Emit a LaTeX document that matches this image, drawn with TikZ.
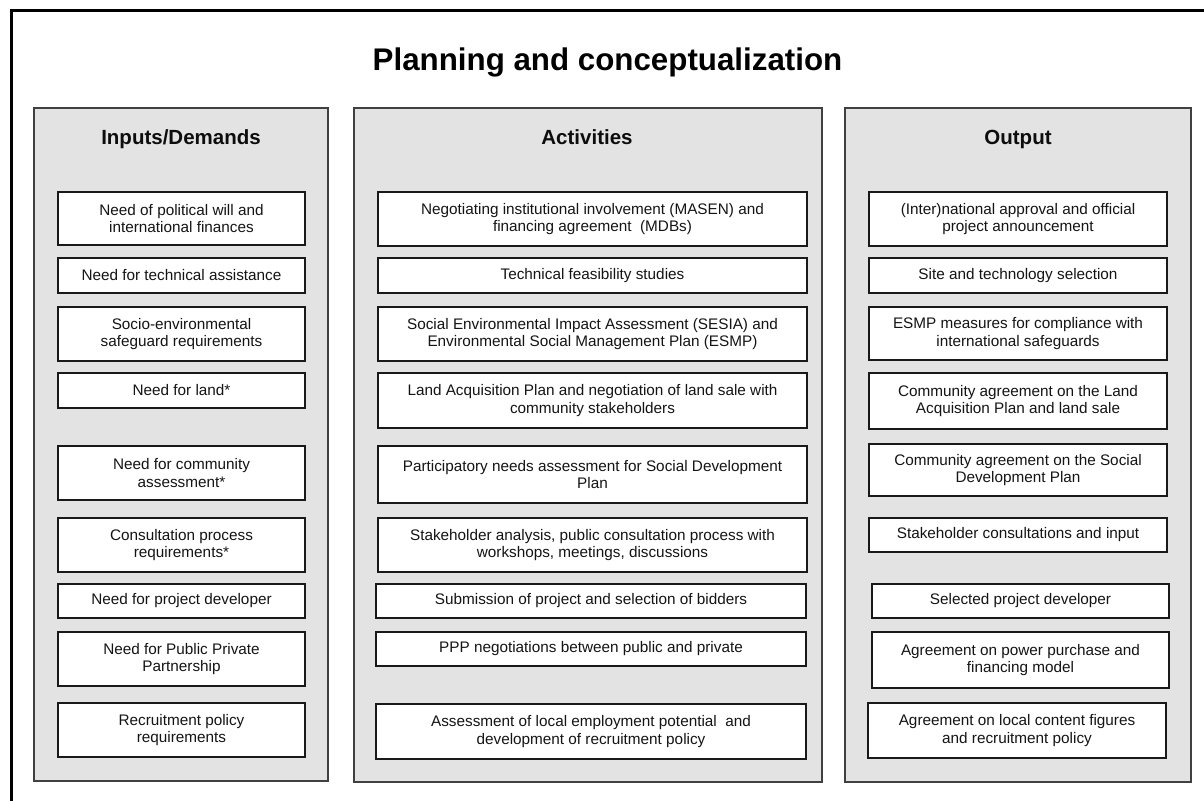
\documentclass[tikz,border=0pt]{standalone}
\usepackage{fontspec}
\setmainfont{Liberation Sans}
\begin{document}
\begin{tikzpicture}[x=1pt,y=-1pt,
  panel/.style={draw=black!75, line width=1.4pt, fill=black!11},
  hdr/.style={font=\bfseries\fontsize{20.5}{24}\selectfont, text=black!95, text height=14.7pt, text depth=0pt, inner sep=0pt},
  ttl/.style={font=\bfseries\fontsize{31.3}{36}\selectfont, text=black, text height=22.4pt, text depth=0pt, inner sep=0pt},
  ibox/.style={draw=black!90, line width=1.6pt, fill=white, inner sep=0pt, align=center,
     font=\fontsize{15.3}{17.5}\selectfont, text=black!92},
  frame/.style={line width=3pt, draw=black}]
\useasboundingbox (0,0) rectangle (1204,800);
\clip (0,0) rectangle (1204,800);
\draw[frame] (11,900) -- (11,11) -- (1300,11);
\node[ttl] (title) at (607.5,59) {Planning and conceptualization};
% panels
\draw[panel] (34,108) rectangle (328,781);
\draw[panel] (354,108) rectangle (822,782);
\draw[panel] (845,108) rectangle (1191,782);
\node[hdr] (h1) at (181,137.5) {Inputs/Demands};
\node[hdr] (h2) at (587,137.5) {Activities};
\node[hdr] (h3) at (1018,137.5) {Output};
% column 1
\node[ibox, minimum width=247pt, minimum height=53pt] (a1) at (181.5,218.5) {Need of political will and\\international finances};
\node[ibox, minimum width=247pt, minimum height=35pt] (a2) at (181.5,275.5) {Need for technical assistance};
\node[ibox, minimum width=247pt, minimum height=54pt] (a3) at (181.5,334) {Socio-environmental\\safeguard requirements};
\node[ibox, minimum width=247pt, minimum height=35pt] (a4) at (181.5,390.5) {Need for land*};
\node[ibox, minimum width=247pt, minimum height=54pt] (a5) at (181.5,473) {Need for community\\assessment*};
\node[ibox, minimum width=247pt, minimum height=54pt] (a6) at (181.5,545) {Consultation process\\requirements*};
\node[ibox, minimum width=247pt, minimum height=34pt] (a7) at (181.5,601) {Need for project developer};
\node[ibox, minimum width=247pt, minimum height=54pt] (a8) at (181.5,659) {Need for Public Private\\Partnership};
\node[ibox, minimum width=247pt, minimum height=54pt] (a9) at (181.5,730) {Recruitment policy\\requirements};
% column 2
\node[ibox, minimum width=429pt, minimum height=54pt] (b1) at (592.5,219) {Negotiating institutional involvement (MASEN) and\\financing agreement\ \ (MDBs)};
\node[ibox, minimum width=429pt, minimum height=35pt] (b2) at (592.5,275.5) {Technical feasibility studies};
\node[ibox, minimum width=429pt, minimum height=54pt] (b3) at (592.5,334) {Social Environmental Impact Assessment (SESIA) and\\Environmental Social Management Plan (ESMP)};
\node[ibox, minimum width=429pt, minimum height=55pt] (b4) at (592.5,400.5) {Land Acquisition Plan and negotiation of land sale with\\community stakeholders};
\node[ibox, minimum width=429pt, minimum height=57pt] (b5) at (592.5,474.5) {Participatory needs assessment for Social Development\\Plan};
\node[ibox, minimum width=429pt, minimum height=54pt] (b6) at (592.5,545) {Stakeholder analysis, public consultation process with\\workshops, meetings, discussions};
\node[ibox, minimum width=430pt, minimum height=34pt] (b7) at (591,601) {Submission of project and selection of bidders};
\node[ibox, minimum width=430pt, minimum height=34pt] (b8) at (591,649) {PPP negotiations between public and private};
\node[ibox, minimum width=430pt, minimum height=55pt] (b9) at (591,731.5) {Assessment of local employment potential\ \ and\\development of recruitment policy};
% column 3
\node[ibox, minimum width=298pt, minimum height=54pt] (c1) at (1018,219) {(Inter)national approval and official\\project announcement};
\node[ibox, minimum width=298pt, minimum height=35pt] (c2) at (1018,275.5) {Site and technology selection};
\node[ibox, minimum width=298pt, minimum height=53pt] (c3) at (1018,333.5) {ESMP measures for compliance with\\international safeguards};
\node[ibox, minimum width=298pt, minimum height=56pt] (c4) at (1018,401) {Community agreement on the Land\\Acquisition Plan and land sale};
\node[ibox, minimum width=298pt, minimum height=52pt] (c5) at (1018,470) {Community agreement on the Social\\Development Plan};
\node[ibox, minimum width=298pt, minimum height=34pt] (c6) at (1018,535) {Stakeholder consultations and input};
\node[ibox, minimum width=297pt, minimum height=34pt] (c7) at (1020.5,601) {Selected project developer};
\node[ibox, minimum width=297pt, minimum height=56pt] (c8) at (1020.5,660) {Agreement on power purchase and\\financing model};
\node[ibox, minimum width=298pt, minimum height=55pt] (c9) at (1017,730.5) {Agreement on local content figures\\and recruitment policy};
\end{tikzpicture}
\end{document}
